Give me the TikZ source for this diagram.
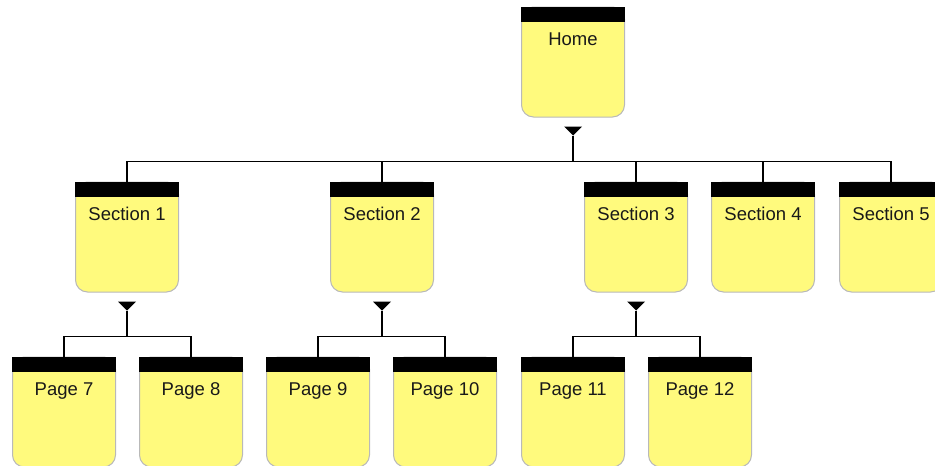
\documentclass[tikz,border=0pt]{standalone}
\usepackage{fontspec}
\setmainfont{Liberation Sans}
\definecolor{boxyellow}{RGB}{255,250,125}
\definecolor{boxedge}{RGB}{185,185,185}
\begin{document}
\begin{tikzpicture}[x=1pt,y=1pt,
  box/.style={rectangle, rounded corners=12pt, fill=boxyellow, draw=boxedge, line width=1pt,
    minimum width=103pt, minimum height=110pt, inner sep=0pt},
  lbl/.style={font=\fontsize{18.5}{20}\selectfont, text=black!90, inner sep=0pt, anchor=base},
  conn/.style={line width=1.2pt, black},
]
\useasboundingbox (0,0) rectangle (935,-466);

% boxes: name, center, label
\foreach \n/\x/\y/\t in {home/573/-62/Home,
  s1/127/-237/Section 1, s2/382/-237/Section 2, s3/636/-237/Section 3,
  s4/763/-237/Section 4, s5/891/-237/Section 5,
  p7/64/-412/Page 7, p8/191/-412/Page 8, p9/318/-412/Page 9,
  p10/445/-412/Page 10, p11/573/-412/Page 11, p12/700/-412/Page 12}{
  \node[box] (\n) at (\x,\y) {};
  \fill[black] (\n.north west) rectangle ([yshift=-15pt]\n.north east);
  \node[lbl] (\n t) at ([yshift=-39pt]\n.north) {\t};
}

% parent markers and buses
\foreach \p in {home,s1,s2,s3}{
  \coordinate (\p tri) at ([yshift=-9pt]\p.south);
  \coordinate (\p tip) at ([yshift=-18pt]\p.south);
  \coordinate (\p bus) at ([yshift=-44pt]\p.south);
  \fill[black] ([xshift=-9pt]\p tri) -- ([xshift=9pt]\p tri) -- (\p tip) -- cycle;
  \draw[conn] (\p tip) -- (\p bus);
}

\foreach \c in {s1,s2,s3,s4,s5}{ \draw[conn] (\c.north) |- (homebus); }
\foreach \c in {p7,p8}{ \draw[conn] (\c.north) |- (s1bus); }
\foreach \c in {p9,p10}{ \draw[conn] (\c.north) |- (s2bus); }
\foreach \c in {p11,p12}{ \draw[conn] (\c.north) |- (s3bus); }
\end{tikzpicture}
\end{document}
